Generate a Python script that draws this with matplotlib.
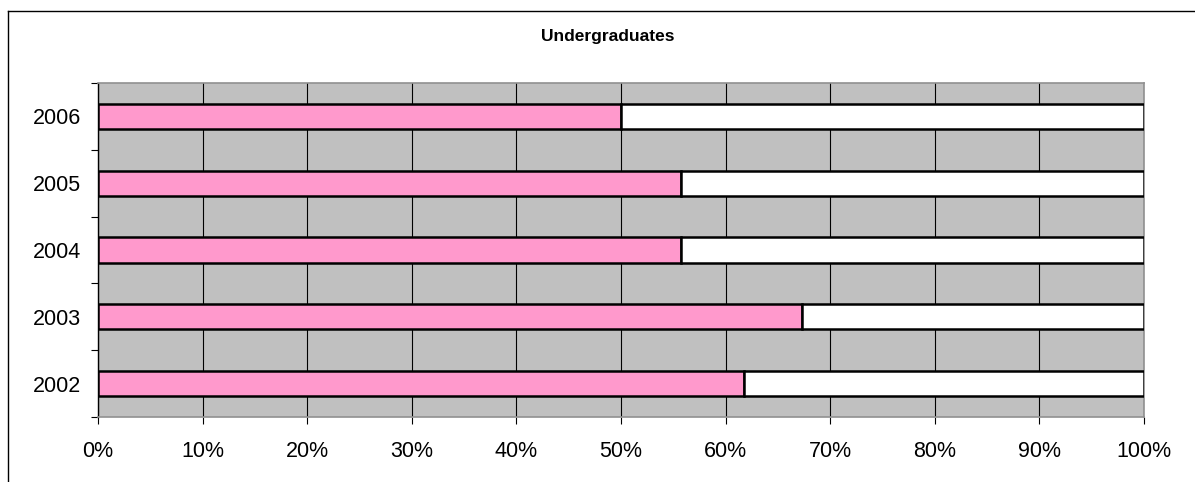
import numpy as np
import matplotlib.pyplot as plt
from matplotlib.lines import Line2D
from matplotlib.ticker import MultipleLocator, PercentFormatter

years = ['2002', '2003', '2004', '2005', '2006']
share_pink = [61.8, 67.3, 55.7, 55.7, 50.0]
share_white = [38.2, 32.7, 44.3, 44.3, 50.0]

plt.rcParams['font.family'] = ['Liberation Sans', 'DejaVu Sans']

fig = plt.figure(figsize=(11.95, 4.82), dpi=100)
ax = fig.add_axes([98 / 1195, 1 - 417 / 482, 1046 / 1195, 334 / 482])

# outer chart frame, runs off the right and bottom edge
fig.add_artist(Line2D([8 / 1195, 1.01], [1 - 11 / 482, 1 - 11 / 482], color='black', lw=1.0))
fig.add_artist(Line2D([8 / 1195, 8 / 1195], [1 - 11 / 482, -0.01], color='black', lw=1.0))

y = np.arange(len(years))
ax.set_facecolor('#C0C0C0')
ax.barh(y, share_pink, height=0.38, color='#FF99CC', edgecolor='black', linewidth=1.8, zorder=3)
ax.barh(y, share_white, left=share_pink, height=0.38, color='white', edgecolor='black', linewidth=1.8, zorder=3)

ax.set_xlim(0, 100)
ax.set_ylim(-0.5, len(years) - 0.5)
ax.xaxis.set_major_locator(MultipleLocator(10))
ax.xaxis.set_major_formatter(PercentFormatter(decimals=0))
ax.grid(axis='x', color='black', linewidth=0.8, zorder=1)
ax.set_axisbelow(True)

ax.set_yticks(y)
ax.set_yticklabels(years)
ax.set_yticks(np.arange(-0.5, len(years)), minor=True)
ax.tick_params(axis='y', which='major', length=0, pad=12, labelsize=15.5)
ax.tick_params(axis='y', which='minor', length=5, width=0.8, color='black')
ax.tick_params(axis='x', length=5, width=0.8, pad=12, labelsize=15.5)

for side in ['top', 'right', 'bottom']:
    ax.spines[side].set_color('#909090')
    ax.spines[side].set_linewidth(1.2)
ax.spines['left'].set_color('black')
ax.spines['left'].set_linewidth(1.0)

fig.text(608 / 1195, 1 - 36 / 482, 'Undergraduates', ha='center', va='center',
         fontsize=12.5, fontweight='bold')

plt.savefig('out.png', dpi=100)
